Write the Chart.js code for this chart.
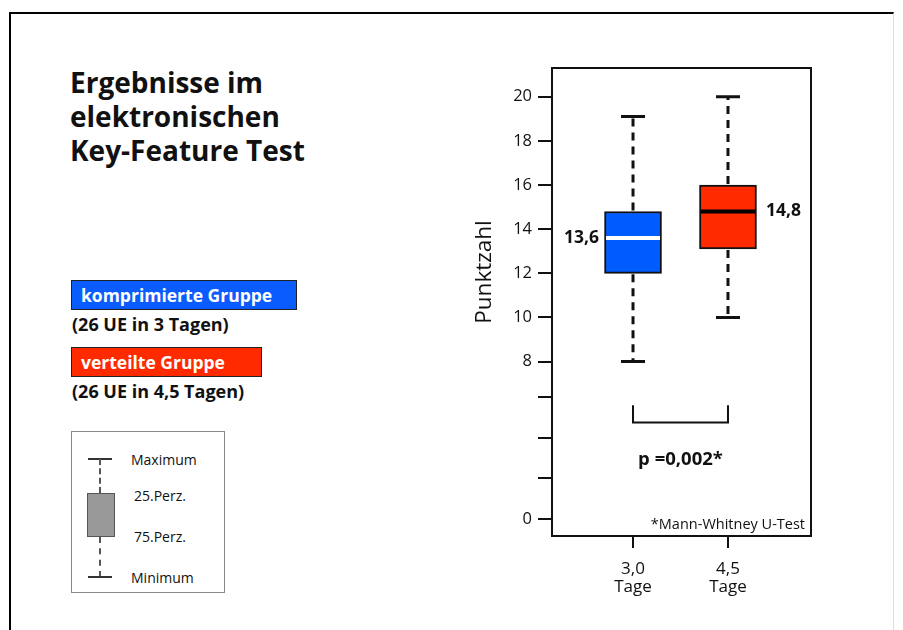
<!DOCTYPE html>
<html>
<head>
<meta charset="utf-8">
<script src="https://cdn.jsdelivr.net/npm/chart.js@4"></script>
<style>
  html, body { margin: 0; padding: 0; background: #fff; }
  body { width: 903px; height: 630px; position: relative; overflow: hidden; font-family: "Open Sans", sans-serif; color: #111; }
  .frame { position: absolute; left: 9px; top: 12px; width: 882px; height: 640px; border: 2px solid #000; border-right: 1px solid #ddd; }
  .title { position: absolute; left: 70px; top: 65px; font-weight: bold; font-size: 28px; line-height: 34px; }
  .leg { position: absolute; left: 71px; height: 28px; border: 1.5px solid #222; color: #fff; font-weight: bold; font-size: 17.5px; line-height: 28px; padding-left: 9px; box-sizing: content-box; }
  .sub { position: absolute; left: 72px; font-weight: bold; font-size: 18px; }
  .keybox { position: absolute; left: 71px; top: 431px; width: 152px; height: 160px; border: 1.5px solid #888; }
  .keybox .cap { position: absolute; left: 16px; width: 24px; border-top: 2px solid #333; }
  .keybox .dash { position: absolute; left: 27px; width: 0; border-left: 2px dashed #555; }
  .keybox .bx { position: absolute; left: 15px; top: 61px; width: 26px; height: 42px; background: #999; border: 1.5px solid #555; }
  .keybox .lbl { position: absolute; font-size: 14px; }
  #wrap { position: absolute; left: 430px; top: 0; width: 473px; height: 630px; }
</style>
</head>
<body>
<div class="frame"></div>
<div class="title">Ergebnisse im<br>elektronischen<br>Key-Feature Test</div>

<div class="leg" style="top:280px; width:215px; background:#0a5cff;">komprimierte Gruppe</div>
<div class="sub" style="top:312px;">(26 UE in 3 Tagen)</div>
<div class="leg" style="top:347px; width:180px; background:#ff2a00;">verteilte Gruppe</div>
<div class="sub" style="top:379px;">(26 UE in 4,5 Tagen)</div>

<div class="keybox">
  <div class="cap" style="top:26px;"></div>
  <div class="dash" style="top:27px; height:34px;"></div>
  <div class="bx"></div>
  <div class="dash" style="top:105px; height:40px;"></div>
  <div class="cap" style="top:144px;"></div>
  <div class="lbl" style="left:59px; top:18px;">Maximum</div>
  <div class="lbl" style="left:62px; top:54px;">25.Perz.</div>
  <div class="lbl" style="left:62px; top:95px;">75.Perz.</div>
  <div class="lbl" style="left:59px; top:136px;">Minimum</div>
</div>

<div id="wrap"><canvas id="box" width="473" height="630"></canvas></div>

<script>
// groups on the x axis
const groups = [['3,0', 'Tage'], ['4,5', 'Tage']];
const groupPos = [0, 1];

// box plot values (Punktzahl)
const minVals = [8, 10];
const q1Vals = [12, 13.1];
const medianVals = [13.6, 14.8];
const q3Vals = [14.8, 16];
const maxVals = [19.1, 20];
const medianLabels = ['13,6', '14,8'];

const boxColors = ['#005cff', '#ff2a00'];
const medianColors = ['#ffffff', '#000000'];

// the y axis is drawn in two parts: a wider upper part and a squeezed lower part
const upperTicks = [8, 10, 12, 14, 16, 18, 20];
const upperTickLabels = ['8', '10', '12', '14', '16', '18', '20'];
const lowerTicks = [0, 2, 4, 6];
const lowerTickLabels = ['0', '', '', ''];

const pText = 'p =0,002*';
const testNote = '*Mann-Whitney U-Test';
const FONT = '"Open Sans", sans-serif';

// whiskers, caps, medians and annotations
const boxExtras = {
    id: 'boxExtras',
    afterDatasetsDraw(chart) {
        const ctx = chart.ctx;
        const x = chart.scales.x, y = chart.scales.y, y2 = chart.scales.y2;
        const area = chart.chartArea;
        ctx.save();
        groupPos.forEach((g, i) => {
            const cx = x.getPixelForValue(g);
            // whiskers
            ctx.strokeStyle = '#111';
            ctx.lineWidth = 3;
            ctx.setLineDash([8, 6]);
            ctx.beginPath();
            ctx.moveTo(cx, y.getPixelForValue(q3Vals[i]) - 1);
            ctx.lineTo(cx, y.getPixelForValue(maxVals[i]));
            ctx.moveTo(cx, y.getPixelForValue(q1Vals[i]) + 1);
            ctx.lineTo(cx, y.getPixelForValue(minVals[i]));
            ctx.stroke();
            ctx.setLineDash([]);
            // caps
            ctx.beginPath();
            [maxVals[i], minVals[i]].forEach(v => {
                const py = y.getPixelForValue(v);
                ctx.moveTo(cx - 12, py);
                ctx.lineTo(cx + 12, py);
            });
            ctx.stroke();
            // median
            const my = y.getPixelForValue(medianVals[i]);
            ctx.strokeStyle = medianColors[i];
            ctx.lineWidth = 4;
            ctx.beginPath();
            ctx.moveTo(cx - 27, my);
            ctx.lineTo(cx + 27, my);
            ctx.stroke();
            // median label
            ctx.fillStyle = '#111';
            ctx.font = 'bold 17.5px ' + FONT;
            ctx.textBaseline = 'middle';
            if (i === 0) {
                ctx.textAlign = 'right';
                ctx.fillText(medianLabels[i], cx - 34, my);
            } else {
                ctx.textAlign = 'left';
                ctx.fillText(medianLabels[i], cx + 38, my);
            }
        });

        // bracket between the groups
        const x0 = x.getPixelForValue(groupPos[0]);
        const x1 = x.getPixelForValue(groupPos[1]);
        const bTop = y2.getPixelForValue(5.6), bBot = y2.getPixelForValue(4.75);
        ctx.strokeStyle = '#111';
        ctx.lineWidth = 2;
        ctx.beginPath();
        ctx.moveTo(x0, bTop);
        ctx.lineTo(x0, bBot);
        ctx.lineTo(x1, bBot);
        ctx.lineTo(x1, bTop);
        ctx.stroke();

        ctx.fillStyle = '#111';
        ctx.textAlign = 'center';
        ctx.textBaseline = 'middle';
        ctx.font = 'bold 18.5px ' + FONT;
        ctx.fillText(pText, (x0 + x1) / 2, y2.getPixelForValue(2.9));

        ctx.textAlign = 'right';
        ctx.font = '14.5px ' + FONT;
        ctx.fillText(testNote, area.right - 6, area.bottom - 11);

        // frame round the plot
        ctx.lineWidth = 2;
        ctx.strokeRect(area.left, area.top, area.right - area.left, area.bottom - area.top);

        // axis title
        ctx.save();
        ctx.translate(55, 272);
        ctx.rotate(-Math.PI / 2);
        ctx.font = '22.5px ' + FONT;
        ctx.textAlign = 'center';
        ctx.fillText('Punktzahl', 0, 0);
        ctx.restore();
        ctx.restore();
    }
};

const yGrid = { drawOnChartArea: false, drawTicks: true, tickLength: 14, color: '#111', lineWidth: 2 };

new Chart(document.getElementById('box'), {
    type: 'bar',
    data: {
        datasets: [{
            yAxisID: 'y',
            data: groupPos.map((g, i) => ({ x: g, y: [q1Vals[i], q3Vals[i]] })),
            backgroundColor: boxColors,
            borderColor: '#111',
            borderWidth: 2,
            borderSkipped: false,
            barThickness: 57
        }]
    },
    options: {
        responsive: false,
        animation: false,
        layout: { padding: { left: 42, right: 92, top: 68, bottom: 24 } },
        plugins: { legend: { display: false }, tooltip: { enabled: false } },
        scales: {
            x: {
                type: 'linear',
                offset: false,
                min: -0.853,
                max: 1.874,
                afterBuildTicks: s => { s.ticks = groupPos.map(v => ({ value: v })); },
                afterFit: s => { s.height = 70; },
                ticks: {
                    callback: (v, i) => groups[i],
                    color: '#111',
                    font: { size: 17, family: FONT, lineHeight: 1.05 },
                    padding: 12,
                    maxRotation: 0
                },
                grid: { offset: false, drawOnChartArea: false, drawTicks: true, tickLength: 12, color: '#111', lineWidth: 2 },
                border: { display: false }
            },
            // lower part first: left boxes in a stack are placed in reverse order
            y2: {
                type: 'linear',
                position: 'left',
                stack: 'punkte',
                stackWeight: 152.3,
                min: -0.84,
                max: 6.66,
                afterBuildTicks: s => { s.ticks = lowerTicks.map(v => ({ value: v })); },
                afterFit: s => { s.width = 80; },
                ticks: {
                    callback: (v, i) => lowerTickLabels[i],
                    color: '#111',
                    font: { size: 16.5, family: FONT },
                    padding: 6
                },
                grid: yGrid,
                border: { display: false }
            },
            y: {
                type: 'linear',
                position: 'left',
                stack: 'punkte',
                stackWeight: 315.7,
                min: 7,
                max: 21.3,
                afterBuildTicks: s => { s.ticks = upperTicks.map(v => ({ value: v })); },
                afterFit: s => { s.width = 80; },
                ticks: {
                    callback: (v, i) => upperTickLabels[i],
                    color: '#111',
                    font: { size: 16.5, family: FONT },
                    padding: 6
                },
                grid: yGrid,
                border: { display: false }
            }
        }
    },
    plugins: [boxExtras]
});
</script>
</body>
</html>
